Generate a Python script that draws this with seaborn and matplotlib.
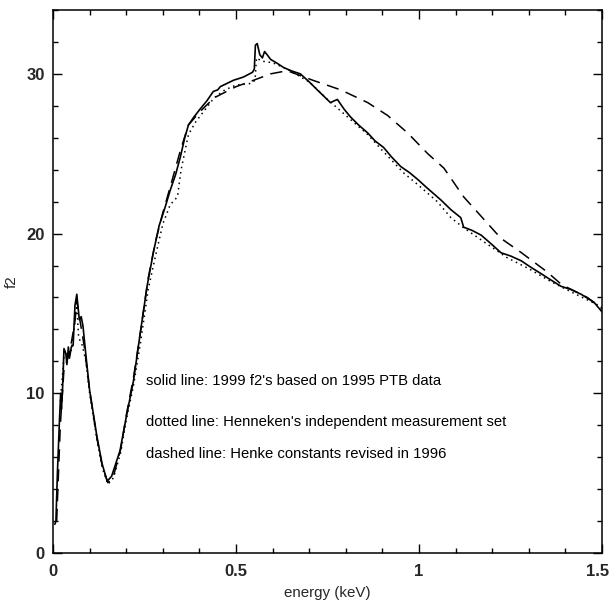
import matplotlib
matplotlib.use("Agg")
import matplotlib.pyplot as plt
import matplotlib.transforms as mtransforms
import seaborn as sns
import pandas as pd
from matplotlib.ticker import MultipleLocator

# ---- data ----
solid_x = [0.005, 0.008, 0.012, 0.018, 0.021, 0.023, 0.026, 0.030, 0.035, 0.038, 0.042, 0.045,
           0.050, 0.055, 0.060, 0.065, 0.068, 0.072, 0.077, 0.082, 0.088, 0.100, 0.120, 0.134,
           0.148, 0.160, 0.183, 0.200, 0.220, 0.238, 0.257, 0.274, 0.290, 0.307, 0.320, 0.335,
           0.348, 0.360, 0.370, 0.385, 0.402, 0.420, 0.438, 0.450, 0.457, 0.475, 0.493, 0.520,
           0.545, 0.550, 0.553, 0.558, 0.565, 0.572, 0.578, 0.585, 0.595, 0.610, 0.630, 0.650,
           0.676, 0.700, 0.722, 0.740, 0.758, 0.767, 0.777, 0.795, 0.813, 0.835, 0.860, 0.880,
           0.903, 0.925, 0.950, 0.975, 0.996, 1.020, 1.040, 1.060, 1.087, 1.114, 1.122, 1.145,
           1.170, 1.200, 1.224, 1.250, 1.279, 1.305, 1.333, 1.360, 1.388, 1.415, 1.443, 1.478, 1.500]
solid_y = [1.8, 2.0, 5.0, 8.5, 10.0, 9.0, 10.2, 12.8, 12.5, 11.8, 12.9, 12.2,
           12.9, 13.0, 15.5, 16.2, 15.5, 14.6, 14.8, 14.2, 12.8, 10.2, 7.3, 5.6,
           4.5, 4.8, 6.4, 8.5, 10.8, 13.7, 16.7, 18.8, 20.5, 21.7, 22.7, 23.7,
           24.8, 26.0, 26.8, 27.3, 27.8, 28.3, 28.9, 29.0, 29.2, 29.4, 29.6, 29.8,
           30.1, 30.3, 31.8, 31.9, 31.2, 31.0, 31.4, 31.2, 30.9, 30.7, 30.4, 30.2,
           30.0, 29.5, 29.0, 28.6, 28.2, 28.3, 28.4, 27.8, 27.3, 26.8, 26.3, 25.8,
           25.4, 24.8, 24.2, 23.8, 23.4, 22.9, 22.5, 22.1, 21.5, 21.0, 20.4, 20.2,
           19.9, 19.3, 18.8, 18.6, 18.3, 17.9, 17.5, 17.1, 16.7, 16.5, 16.2, 15.7, 15.1]

dotted_x = [0.020, 0.030, 0.050, 0.060, 0.065, 0.070, 0.080, 0.090, 0.100, 0.120, 0.135, 0.150,
            0.165, 0.185, 0.200, 0.220, 0.240, 0.260, 0.280, 0.300, 0.320, 0.340, 0.350, 0.370,
            0.390, 0.410, 0.440, 0.470, 0.500, 0.540, 0.552, 0.556, 0.570, 0.600, 0.640, 0.700,
            0.750, 0.800, 0.860, 0.900, 0.958, 1.000, 1.050, 1.087, 1.120, 1.170, 1.240, 1.300,
            1.360, 1.420, 1.500]
dotted_y = [9.5, 12.3, 12.7, 14.5, 15.5, 13.5, 13.0, 12.0, 10.0, 7.1, 5.3, 4.3,
            4.7, 6.3, 8.3, 10.5, 13.3, 16.5, 18.6, 20.6, 21.8, 22.3, 24.0, 26.2,
            27.0, 27.6, 28.5, 29.0, 29.3, 29.4, 29.6, 31.0, 30.8, 30.7, 30.3, 29.5,
            28.4, 27.4, 26.2, 25.2, 23.8, 23.0, 22.0, 21.0, 20.4, 19.6, 18.5, 17.8,
            17.0, 16.3, 15.4]

dashed_x = [0.010, 0.020, 0.030, 0.045, 0.060, 0.065, 0.072, 0.085, 0.100, 0.120, 0.135, 0.150,
            0.165, 0.185, 0.200, 0.220, 0.240, 0.260, 0.280, 0.300, 0.320, 0.348, 0.370, 0.400,
            0.440, 0.500, 0.548, 0.594, 0.640, 0.710, 0.786, 0.860, 0.914, 0.969, 1.024, 1.068,
            1.122, 1.177, 1.224, 1.280, 1.350, 1.390, 1.460, 1.500]
dashed_y = [2.0, 8.0, 11.5, 12.5, 14.5, 15.8, 14.8, 13.0, 10.2, 7.2, 5.4, 4.4,
            4.8, 6.5, 8.6, 11.0, 14.0, 17.2, 19.5, 21.3, 22.9, 25.2, 26.8, 27.6,
            28.5, 29.2, 29.6, 30.0, 30.2, 29.6, 29.0, 28.2, 27.4, 26.3, 25.0, 24.1,
            22.3, 20.9, 19.7, 18.8, 17.6, 16.8, 16.0, 15.3]

notes = ["solid line: 1999 f2's based on 1995 PTB data",
         "dotted line: Henneken's independent measurement set",
         "dashed line: Henke constants revised in 1996"]
notes_y = [10.75, 8.2, 6.2]

x_ticks = [0, 0.5, 1, 1.5]
x_tick_labels = ["0", "0.5", "1", "1.5"]
y_ticks = [0, 10, 20, 30]
y_tick_labels = ["0", "10", "20", "30"]

# ---- figure ----
sns.set_style("ticks")
plt.rcParams["font.family"] = ["Liberation Sans", "DejaVu Sans"]

fig = plt.figure(figsize=(6.12, 6.03), dpi=100)
ax = fig.add_axes([0.0866, 0.0829, 0.8971, 0.9005])

df_solid = pd.DataFrame({"energy": solid_x, "f2": solid_y})
df_dotted = pd.DataFrame({"energy": dotted_x, "f2": dotted_y})
df_dashed = pd.DataFrame({"energy": dashed_x, "f2": dashed_y})

sns.lineplot(data=df_dashed, x="energy", y="f2", ax=ax, color="black", lw=1.1,
             estimator=None, sort=False, linestyle=(0, (8, 5)))
sns.lineplot(data=df_dotted, x="energy", y="f2", ax=ax, color="black", lw=1.1,
             estimator=None, sort=False, linestyle=(0, (1, 2.5)))
sns.lineplot(data=df_solid, x="energy", y="f2", ax=ax, color="black", lw=1.2,
             estimator=None, sort=False)

ax.set_xlim(0, 1.5)
ax.set_ylim(0, 34)

ax.set_xticks(x_ticks)
ax.set_xticklabels(x_tick_labels, fontweight="bold", fontsize=12)
ax.set_yticks(y_ticks)
ax.set_yticklabels(y_tick_labels, fontweight="bold", fontsize=12)
ax.xaxis.set_minor_locator(MultipleLocator(0.1))
ax.yaxis.set_minor_locator(MultipleLocator(2))
ax.tick_params(which="both", direction="in", top=True, right=True, color="black", width=1.0)
ax.tick_params(which="major", length=6.5)
ax.tick_params(which="minor", length=3.5)
ax.tick_params(axis="x", which="major", pad=8)
ax.tick_params(axis="y", which="major", pad=6)

# keep the last x tick label inside the figure, as in the reference
last = ax.get_xticklabels()[-1]
last.set_transform(last.get_transform() + mtransforms.ScaledTranslation(-3 / 72, 0, fig.dpi_scale_trans))

for s in ax.spines.values():
    s.set_color("black")
    s.set_linewidth(1.1)

ax.set_xlabel("energy (keV)", fontsize=10.9, labelpad=5)
ax.set_ylabel("f2", fontsize=10.9)
ax.yaxis.set_label_coords(-0.062, 0.5)

for txt, yy in zip(notes, notes_y):
    ax.text(0.255, yy, txt, fontsize=10.7, color="black", va="center", ha="left")

fig.savefig("out.png", dpi=100)
